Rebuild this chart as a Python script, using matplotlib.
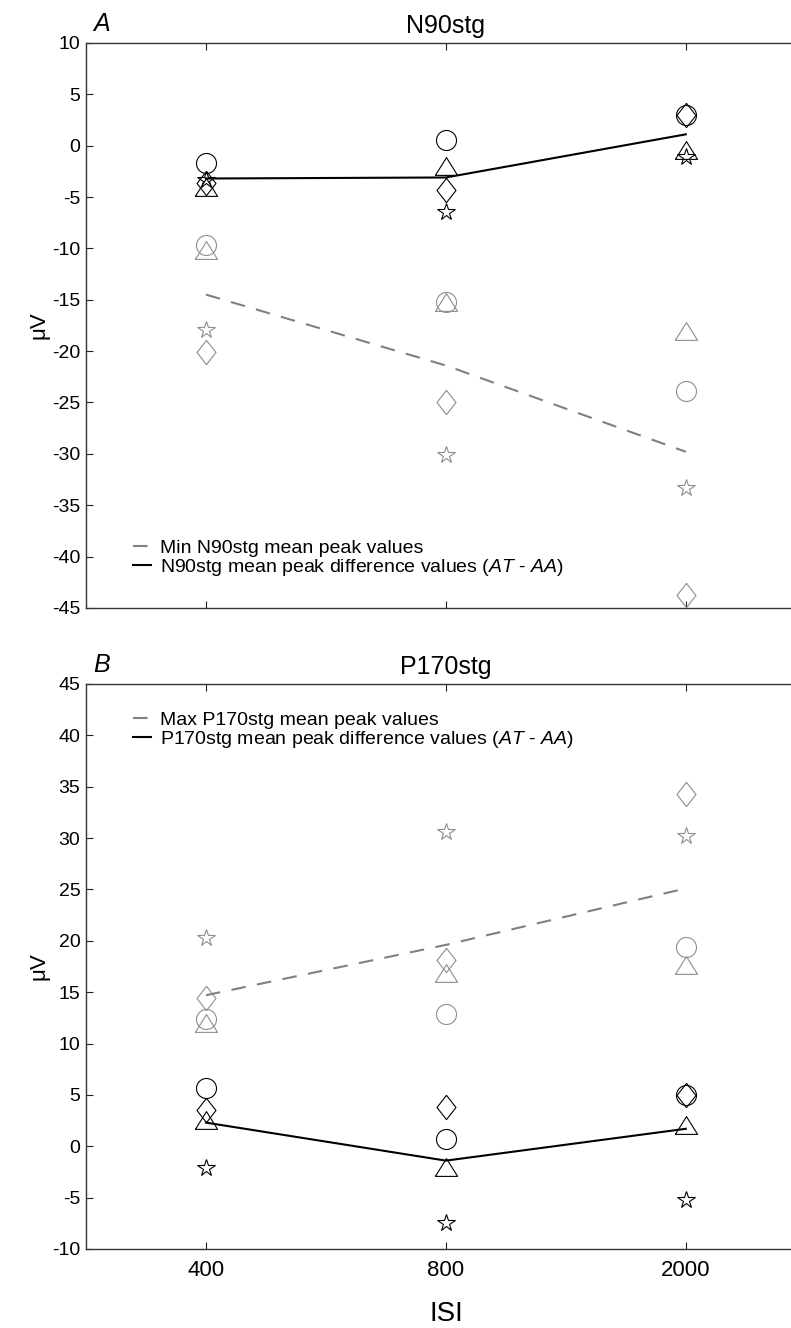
import matplotlib
matplotlib.use("Agg")
import matplotlib.pyplot as plt

plt.rcParams["font.family"] = ["Liberation Sans", "DejaVu Sans"]
plt.rcParams["mathtext.fontset"] = "custom"
plt.rcParams["mathtext.rm"] = "Liberation Sans"
plt.rcParams["mathtext.it"] = "Liberation Sans:italic"
plt.rcParams["axes.unicode_minus"] = False

# ISI conditions (categorical positions 1..3)
isi_labels = ["400", "800", "2000"]
isi_pos = [1, 2, 3]

# N90stg - difference values (AT - AA), one list per subject marker
n90_diff_circle = [-1.7, 0.5, 3.0]
n90_diff_triangle = [-4.0, -2.0, -0.4]
n90_diff_diamond = [-3.6, -4.3, 3.0]
n90_diff_star = [-3.3, -6.5, -1.1]
n90_diff_line = [-3.2, -3.1, 1.1]

# N90stg - min mean peak values
n90_min_circle = [-9.7, -15.2, -23.9]
n90_min_triangle = [-10.2, -15.2, -18.0]
n90_min_diamond = [-20.1, -25.0, -43.7]
n90_min_star = [-17.9, -30.1, -33.3]
n90_min_line = [-14.5, -21.4, -29.8]

# P170stg - difference values (AT - AA)
p170_diff_circle = [5.7, 0.7, 5.0]
p170_diff_triangle = [2.6, -2.0, 2.1]
p170_diff_diamond = [3.5, 3.8, 5.0]
p170_diff_star = [-2.1, -7.5, -5.2]
p170_diff_line = [2.3, -1.4, 1.7]

# P170stg - max mean peak values
p170_max_circle = [12.4, 12.9, 19.4]
p170_max_triangle = [12.0, 16.9, 17.6]
p170_max_diamond = [14.4, 18.1, 34.3]
p170_max_star = [20.3, 30.6, 30.2]
p170_max_line = [14.7, 19.6, 25.1]

GRAY = "#8e8e8e"
LINE_GRAY = "#808080"

TRI = [(-1, -0.8), (1, -0.8), (0, 0.8), (-1, -0.8)]
DIA = [(0, 1), (0.78, 0), (0, -1), (-0.78, 0), (0, 1)]

fig = plt.figure(figsize=(7.91, 13.28), dpi=100)
ax1 = fig.add_axes([0.1087, 0.5422, 0.910, 0.4255])
ax2 = fig.add_axes([0.1087, 0.0595, 0.910, 0.4255])


def draw_markers(ax, circ, tri, dia, star, color):
    kw = dict(linestyle="none", markerfacecolor="none", markeredgecolor=color,
              markeredgewidth=0.8)
    ax.plot(isi_pos, circ, marker="o", markersize=14.4, **kw)
    ax.plot(isi_pos, tri, marker=TRI, markersize=16, **kw)
    ax.plot(isi_pos, dia, marker=DIA, markersize=17.5, **kw)
    ax.plot(isi_pos, star, marker="*", markersize=13, **kw)


def style_axes(ax, ylim, show_xlabels):
    ax.set_xlim(0.5, 3.5)
    ax.set_ylim(*ylim)
    ax.set_yticks(range(ylim[0], ylim[1] + 1, 5))
    ax.set_xticks(isi_pos)
    if show_xlabels:
        ax.set_xticklabels(isi_labels, fontsize=16)
    else:
        ax.set_xticklabels([])
    ax.tick_params(axis="both", direction="in", length=5, width=0.8,
                   top=True, color="#222222")
    ax.tick_params(axis="y", labelsize=14, pad=4)
    ax.tick_params(axis="x", pad=8)
    for sp in ax.spines.values():
        sp.set_color("#333333")
        sp.set_linewidth(1.0)
    ax.set_ylabel("μV", fontsize=16, labelpad=2)


def add_legend(ax, loc, anchor):
    ax.legend(loc=loc, bbox_to_anchor=anchor, frameon=False, fontsize=14,
              handlelength=0.95, handletextpad=0.45, labelspacing=0.0,
              borderpad=0.1, borderaxespad=0.0)


# --- Panel A: N90stg ---
draw_markers(ax1, n90_min_circle, n90_min_triangle, n90_min_diamond, n90_min_star, GRAY)
draw_markers(ax1, n90_diff_circle, n90_diff_triangle, n90_diff_diamond, n90_diff_star, "black")
ax1.plot(isi_pos, n90_min_line, color=LINE_GRAY, linestyle=(0, (7, 5.5)), linewidth=1.5,
         label="Min N90stg mean peak values")
ax1.plot(isi_pos, n90_diff_line, color="black", linewidth=1.5,
         label="N90stg mean peak difference values ($\\mathit{AT}$ - $\\mathit{AA}$)")
style_axes(ax1, (-45, 10), False)
ax1.set_title("N90stg", fontsize=18, pad=7)
ax1.text(0.01, 1.012, "A", transform=ax1.transAxes, fontsize=18, style="italic",
         ha="left", va="bottom")
add_legend(ax1, "lower left", (0.062, 0.05))

# --- Panel B: P170stg ---
draw_markers(ax2, p170_max_circle, p170_max_triangle, p170_max_diamond, p170_max_star, GRAY)
draw_markers(ax2, p170_diff_circle, p170_diff_triangle, p170_diff_diamond, p170_diff_star, "black")
ax2.plot(isi_pos, p170_max_line, color=LINE_GRAY, linestyle=(0, (7, 5.5)), linewidth=1.5,
         label="Max P170stg mean peak values")
ax2.plot(isi_pos, p170_diff_line, color="black", linewidth=1.5,
         label="P170stg mean peak difference values ($\\mathit{AT}$ - $\\mathit{AA}$)")
style_axes(ax2, (-10, 45), True)
ax2.set_title("P170stg", fontsize=18, pad=7)
ax2.text(0.01, 1.012, "B", transform=ax2.transAxes, fontsize=18, style="italic",
         ha="left", va="bottom")
add_legend(ax2, "upper left", (0.062, 0.955))
ax2.set_xlabel("ISI", fontsize=20, labelpad=14)

fig.savefig("out.png", dpi=100)
